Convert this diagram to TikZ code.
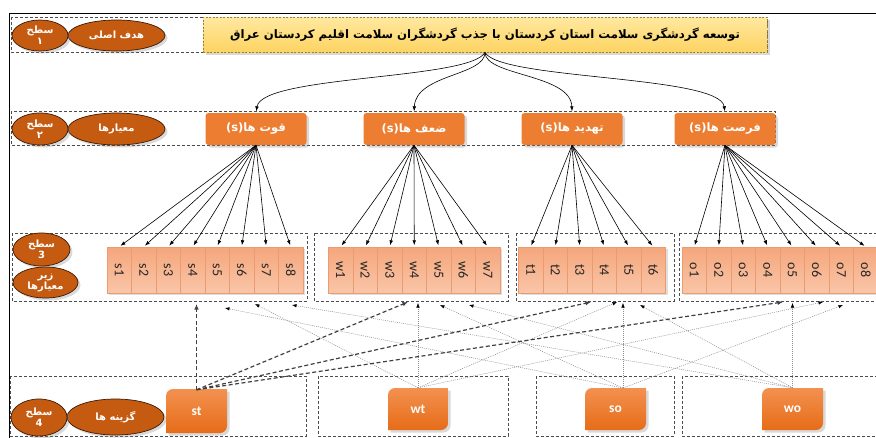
\documentclass[tikz,border=0pt]{standalone}
\usepackage{fontspec}
\usepackage{graphicx}
\setmainfont{Carlito}
\newfontfamily\arabicfont[Script=Arabic]{DejaVu Sans}
\TeXXeTstate=1
\usetikzlibrary{shapes.geometric,arrows.meta,shadows,calc}
\definecolor{ellfill}{HTML}{C55A11}
\definecolor{elldraw}{HTML}{3A1A05}
\definecolor{critfill}{HTML}{ED7D31}
\definecolor{subtop}{HTML}{F5A67C}
\definecolor{subbot}{HTML}{F9C6A8}
\definecolor{subdraw}{HTML}{EC9A70}
\definecolor{goaltop}{HTML}{FFE8A0}
\definecolor{goalbot}{HTML}{FDD462}
\definecolor{goaldraw}{HTML}{9A8040}
\definecolor{opttop}{HTML}{F39150}
\definecolor{optbot}{HTML}{E66C18}
\newcommand\optbox[4]{%
  \path[optfill] (#1,#2+7) arc[start angle=180,end angle=270,radius=7] -- (#3,#2)
    -- (#3,#4-7) arc[start angle=0,end angle=90,radius=7] -- (#1,#4) -- cycle;}
\tikzset{
  grpbox/.style={draw=black!70, densely dashed, line width=0.5pt},
  myshadow/.style={drop shadow={opacity=0.3, shadow xshift=2.5pt, shadow yshift=-2.5pt}},
  ellbase/.style={ellipse, draw=elldraw, line width=0.7pt, fill=ellfill, text=white,
    inner sep=0pt, align=center, font=\arabicfont\bfseries\fontsize{10}{11}\selectfont, myshadow},
  crit/.style={rectangle, rounded corners=3pt, fill=critfill, text=white,
    minimum width=101pt, minimum height=32pt, inner sep=0pt,
    font=\arabicfont\bfseries\fontsize{11.5}{13}\selectfont, myshadow},
  subitem/.style={rectangle, draw=subdraw, line width=0.5pt, top color=subtop, bottom color=subbot,
    minimum width=24.5pt, minimum height=46pt, inner sep=0pt,
    font=\fontsize{14}{15}\selectfont, text=black!85,
    drop shadow={opacity=0.25, shadow xshift=2pt, shadow yshift=-2pt}},
  goalbox/.style={rectangle, draw=goaldraw, line width=0.8pt, dash pattern=on 2pt off 1.5pt,
    top color=goaltop, bottom color=goalbot, minimum width=564pt, minimum height=35pt, inner sep=0pt,
    font=\arabicfont\bfseries\fontsize{11.7}{14}\selectfont, myshadow},
  optfill/.style={top color=opttop, bottom color=optbot, myshadow},
  opttext/.style={inner sep=0pt, minimum width=60pt, minimum height=42pt, text=white,
    font=\bfseries\fontsize{13.5}{15}\selectfont},
  fan/.style={-{Latex[length=5pt,width=3.6pt]}, line width=0.6pt, black, shorten >=1.5pt},
  strongline/.style={-{Latex[length=5.5pt,width=4.5pt]}, line width=1.2pt, draw=black!75,
    dash pattern=on 4pt off 2.5pt},
  weakline/.style={-{Latex[length=4.5pt,width=3.5pt,color=black]}, line width=0.5pt, draw=black!45,
    dash pattern=on 1pt off 1pt},
}
\begin{document}
\begin{tikzpicture}[x=1pt,y=-1pt]
\useasboundingbox (0,0) rectangle (876,437);
% outer frame
\draw[line width=0.9pt] (877,13) -- (9,13) -- (9,438);
% row / group frames
\draw[grpbox] (11,17) rectangle (767,52);
\draw[grpbox] (11,111) rectangle (775,145);
\draw[grpbox] (12,233) rectangle (307,301);
\draw[grpbox] (314,233) rectangle (508,301);
\draw[grpbox] (516,233) rectangle (674,301);
\draw[grpbox] (679,233) rectangle (880,301);
\draw[grpbox] (10,376) rectangle (306,436);
\draw[grpbox] (318,376) rectangle (508,436);
\draw[grpbox] (536,376) rectangle (674,436);
\draw[grpbox] (682,376) rectangle (880,436);

% level 1
\node[goalbox] (goal) at (485,34.5) {\beginR توسعه گردشگری سلامت استان کردستان با جذب گردشگران سلامت اقلیم کردستان عراق\endR};
\node[ellbase, minimum width=97pt, minimum height=31pt] (l1b) at (116.5,35.5) {\beginR هدف اصلی\endR};
\node[ellbase, minimum width=56pt, minimum height=31pt] (l1a) at (40,35.5) {\beginR سطح\endR\\۱};

% level 2
\node[ellbase, minimum width=97pt, minimum height=32pt] (l2b) at (116.5,129) {\beginR معیارها\endR};
\node[ellbase, minimum width=56pt, minimum height=32pt] (l2a) at (40,129) {\beginR سطح\endR\\۲};
\node[crit] (S) at (256,129) {\beginR قوت ها\beginL(s)\endL\endR};
\node[crit] (W) at (414,129) {\beginR ضعف ها\beginL(s)\endL\endR};
\node[crit] (T) at (572,129) {\beginR تهدید ها\beginL(s)\endL\endR};
\node[crit] (O) at (725,129) {\beginR فرصت ها\beginL(s)\endL\endR};

\draw[fan] (goal.south) .. controls (470,80) and (262,75) .. (S.north);
\draw[fan] (goal.south) .. controls (485,76) and (416,74) .. (W.north);
\draw[fan] (goal.south) .. controls (485,76) and (571,74) .. (T.north);
\draw[fan] (goal.south) .. controls (500,80) and (720,75) .. (O.north);

% level 3
\node[ellbase, minimum width=57pt, minimum height=33pt] (l3a) at (41.5,249.5) {\beginR سطح\endR\\3};
\node[ellbase, minimum width=65pt, minimum height=31pt] (l3b) at (45.5,282.5) {\beginR زیر\endR\\\beginR معیارها\endR};
\foreach \i in {1,...,8}
  \node[subitem] (s\i) at ({107+24.5*(\i-0.5)},270) {\rotatebox{-90}{s\i}};
\foreach \i in {1,...,7}
  \node[subitem] (w\i) at ({328.5+24.5*(\i-0.5)},270) {\rotatebox{-90}{w\i}};
\foreach \i in {1,...,6}
  \node[subitem] (t\i) at ({518.5+24.5*(\i-0.5)},270) {\rotatebox{-90}{t\i}};
\foreach \i in {1,...,8}
  \node[subitem] (o\i) at ({682+24.5*(\i-0.5)},270) {\rotatebox{-90}{o\i}};

\foreach \i in {1,...,8} \draw[fan] (S.south) -- (s\i.north);
\foreach \i in {1,...,7} \draw[fan] (W.south) -- (w\i.north);
\foreach \i in {1,...,6} \draw[fan] (T.south) -- (t\i.north);
\foreach \i in {1,...,8} \draw[fan] (O.south) -- (o\i.north);

% level 4
\node[ellbase, minimum width=97pt, minimum height=36pt] (l4b) at (115.5,417) {\beginR گزینه ها\endR};
\node[ellbase, minimum width=56pt, minimum height=37pt] (l4a) at (39,417.5) {\beginR سطح\endR\\4};

\optbox{166}{389}{227}{433}
\optbox{388}{388}{448}{430}
\optbox{585}{388}{646}{430}
\optbox{762}{388}{823}{430}
\node[opttext] (st) at (196.5,411) {st};
\node[opttext] (wt) at (418,409) {wt};
\node[opttext] (so) at (615.5,409) {so};
\node[opttext] (wo) at (792.5,409) {wo};
\coordinate (so-top) at (623,388);

% free ends at the level-3 groups
\coordinate (st-s) at (196.5,304);
\coordinate (st-w) at (408,302);
\coordinate (st-t) at (591,302);
\coordinate (st-o) at (783,302);
\coordinate (wt-s) at (255,304);
\coordinate (wt-w) at (418,303);
\coordinate (wt-t) at (617,302);
\coordinate (wt-o) at (823,302);
\coordinate (so-s) at (225,308);
\coordinate (so-w) at (440,305);
\coordinate (so-t) at (623,303);
\coordinate (so-o) at (843,305);
\coordinate (wo-s) at (292,305);
\coordinate (wo-w) at (469,305);
\coordinate (wo-t) at (640,305);
\coordinate (wo-o) at (792.5,303);

\foreach \g in {s,w,t,o} \draw[weakline] (wt.north) -- (wt-\g);
\foreach \g in {s,w,t,o} \draw[weakline] (so-top) -- (so-\g);
\foreach \g in {s,w,t,o} \draw[weakline] (wo.north) -- (wo-\g);
\foreach \g in {s,w,t,o} \draw[strongline] (st.north) -- (st-\g);
\end{tikzpicture}
\end{document}
